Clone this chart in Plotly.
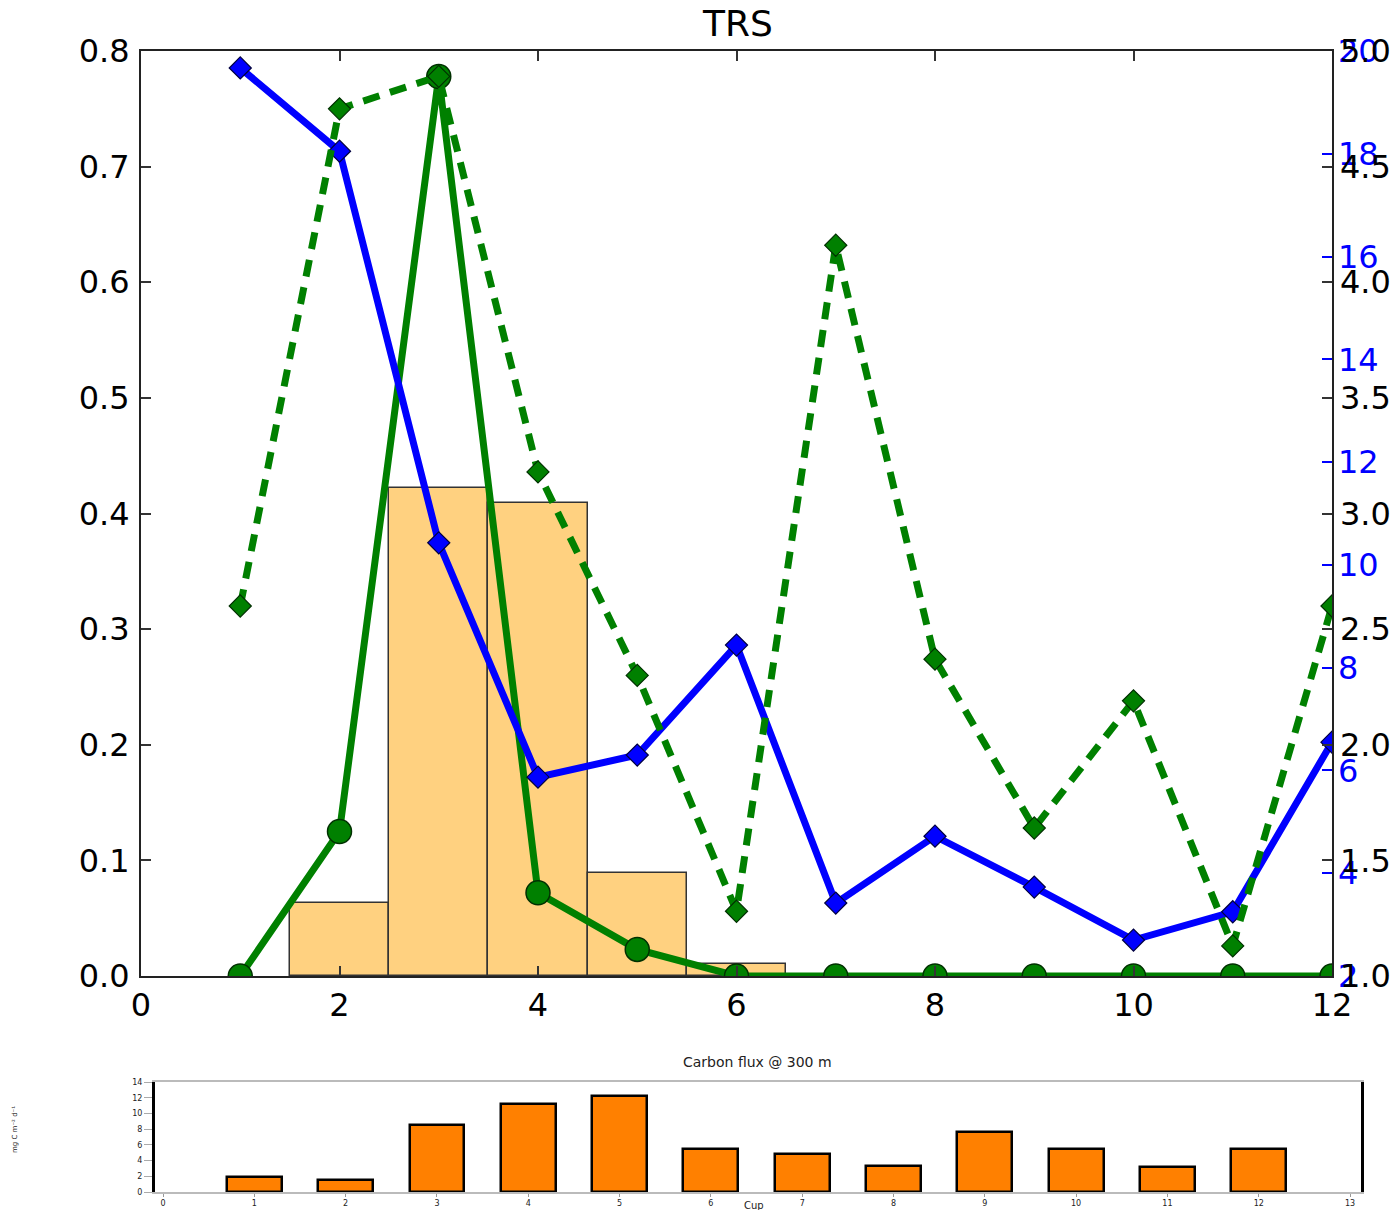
import plotly.graph_objects as go

W, H = 1395, 1210
FONT = "DejaVu Sans"

# --- TRS panel data (cups 1..12) ---
cups = list(range(1, 13))
trs_bar = [0.0, 0.063, 0.422, 0.409, 0.089, 0.0104, 0.0, 0.0, 0.0, 0.0, 0.0, 0.0]
trs_solid = [0.0, 0.125, 0.778, 0.072, 0.023, 0.0, 0.0, 0.0, 0.0, 0.0, 0.0, 0.0]
trs_dashed = [2.60, 4.75, 4.89, 3.18, 2.30, 1.28, 4.16, 2.37, 1.64, 2.19, 1.13, 2.60]
trs_blue = [19.67, 18.05, 10.43, 5.87, 6.30, 8.44, 3.42, 4.72, 3.73, 2.70, 3.25, 6.55]

# --- carbon flux panel data ---
flux_cups = list(range(1, 13))
flux_vals = [1.88, 1.58, 8.52, 11.2, 12.2, 5.44, 4.8, 3.25, 7.7, 5.52, 3.12, 5.44]

GREEN = "#008000"
BLUE = "#0000FF"


def px_x(p):
    return p / W


def px_y(p):
    return 1 - p / H


fig = go.Figure()

# Histogram-like bars in the background
fig.add_trace(go.Bar(
    x=cups, y=[v if v > 0 else None for v in trs_bar], width=1.0,
    marker=dict(color="rgb(255,209,128)", line=dict(color="#333333", width=1.5)),
    xaxis="x", yaxis="y", showlegend=False,
))

# Solid green line with large circles (left axis)
fig.add_trace(go.Scatter(
    x=cups, y=trs_solid, mode="lines+markers",
    line=dict(color=GREEN, width=7),
    marker=dict(symbol="circle", size=24, color=GREEN, line=dict(color="#003000", width=1.5)),
    xaxis="x", yaxis="y", showlegend=False,
))

# Blue line (blue right axis 2-20)
fig.add_trace(go.Scatter(
    x=cups, y=trs_blue, mode="lines+markers",
    line=dict(color=BLUE, width=7),
    marker=dict(symbol="diamond", size=17, color=BLUE, line=dict(color="#000040", width=1.2)),
    xaxis="x", yaxis="y2", showlegend=False,
))

# Dashed green line (black right axis 1-5)
fig.add_trace(go.Scatter(
    x=cups, y=trs_dashed, mode="lines+markers",
    line=dict(color=GREEN, width=7, dash="17px,11px"),
    marker=dict(symbol="diamond", size=17, color=GREEN, line=dict(color="#003000", width=1.2)),
    xaxis="x", yaxis="y3", showlegend=False,
))

# Carbon flux bars
fig.add_trace(go.Bar(
    x=flux_cups, y=flux_vals, width=0.6,
    marker=dict(color="#FF8000", line=dict(color="black", width=2.5)),
    xaxis="x2", yaxis="y4", showlegend=False,
))

main_dom_x = [px_x(141), px_x(1332)]
main_dom_y = [px_y(976), px_y(51)]
bot_dom_x = [px_x(155), px_x(1361)]
bot_dom_y = [px_y(1192), px_y(1082)]

tick_font = dict(family=FONT, size=32, color="black")

fig.update_layout(
    width=W, height=H,
    margin=dict(l=0, r=0, t=0, b=0),
    paper_bgcolor="white", plot_bgcolor="white",
    showlegend=False, bargap=0,
    xaxis=dict(
        domain=main_dom_x, anchor="y", range=[0, 12],
        tickvals=[0, 2, 4, 6, 8, 10, 12], ticks="inside", ticklen=10, tickwidth=1.5,
        tickcolor="#333", showline=True, linecolor="#222", linewidth=2, mirror="ticks",
        showgrid=False, zeroline=False, tickfont=tick_font, automargin=False,
    ),
    yaxis=dict(
        domain=main_dom_y, anchor="x", range=[0, 0.8],
        tickvals=[0, 0.1, 0.2, 0.3, 0.4, 0.5, 0.6, 0.7, 0.8], tickformat=".1f",
        ticks="inside", ticklen=10, tickwidth=1.5, tickcolor="#333",
        showline=True, linecolor="#222", linewidth=2, mirror="ticks",
        showgrid=False, zeroline=False, tickfont=tick_font, automargin=False,
        ticklabelstandoff=3,
    ),
    yaxis2=dict(
        overlaying="y", side="right", anchor="x", range=[2, 20],
        tickvals=[2, 4, 6, 8, 10, 12, 14, 16, 18, 20],
        ticks="inside", ticklen=10, tickwidth=1.5, tickcolor=BLUE,
        showline=False, showgrid=False, zeroline=False,
        tickfont=dict(family=FONT, size=32, color=BLUE), automargin=False,
        ticklabelstandoff=5,
    ),
    yaxis3=dict(
        overlaying="y", side="right", anchor="x", range=[1, 5],
        tickvals=[1, 1.5, 2, 2.5, 3, 3.5, 4, 4.5, 5], tickformat=".1f",
        ticks="inside", ticklen=10, tickwidth=1.5, tickcolor="#333",
        showline=False, showgrid=False, zeroline=False,
        tickfont=tick_font, automargin=False,
        ticklabelstandoff=7,
    ),
    xaxis2=dict(
        domain=bot_dom_x, anchor="y4", range=[-0.088, 13.12],
        tickvals=list(range(0, 14)), ticks="outside", ticklen=3, tickcolor="#999",
        showline=True, linecolor="#bbb", linewidth=1.5, mirror=True,
        showgrid=False, zeroline=False,
        tickfont=dict(family=FONT, size=8, color="#222"), automargin=False,
    ),
    yaxis4=dict(
        domain=bot_dom_y, anchor="x2", range=[0, 14],
        tickvals=[0, 2, 4, 6, 8, 10, 12, 14], ticks="outside", ticklen=8, tickcolor="#aaa",
        showline=True, linecolor="black", linewidth=3, mirror=True,
        showgrid=False, zeroline=False,
        tickfont=dict(family=FONT, size=8, color="#222"), automargin=False,
    ),
    annotations=[
        dict(text="TRS", x=px_x(737), y=px_y(24), xref="paper", yref="paper",
             xanchor="center", yanchor="middle", showarrow=False,
             font=dict(family=FONT, size=36, color="black")),
        dict(text="Carbon flux @ 300 m", x=px_x(757), y=px_y(1062), xref="paper", yref="paper",
             xanchor="center", yanchor="middle", showarrow=False,
             font=dict(family=FONT, size=14, color="#222")),
        dict(text="Cup", x=px_x(754), y=px_y(1205), xref="paper", yref="paper",
             xanchor="center", yanchor="middle", showarrow=False,
             font=dict(family=FONT, size=10, color="#222")),
        dict(text="mg C m⁻² d⁻¹", x=px_x(15), y=px_y(1130), xref="paper", yref="paper",
             xanchor="center", yanchor="middle", showarrow=False, textangle=-90,
             font=dict(family=FONT, size=7, color="#222")),
    ],
)

fig.write_html("out.html")
